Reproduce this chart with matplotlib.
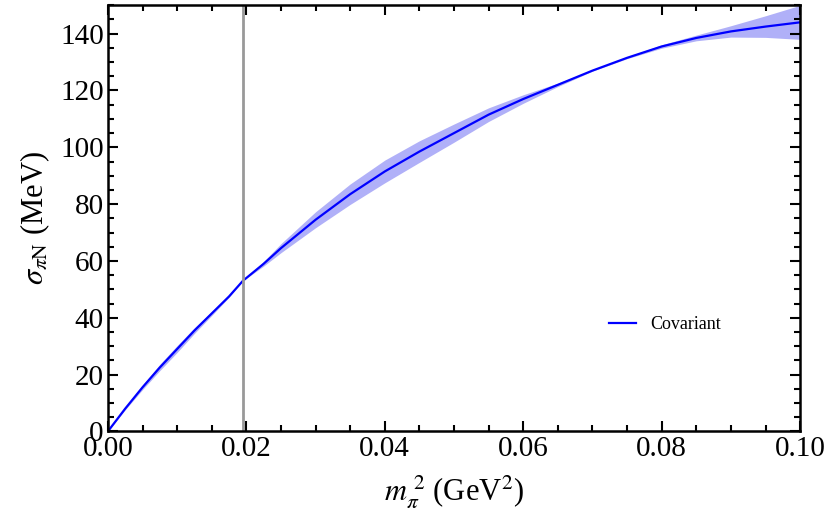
import matplotlib.pyplot as plt
from matplotlib.ticker import MultipleLocator

plt.rcParams['font.family'] = ['Liberation Serif', 'DejaVu Serif']
plt.rcParams['mathtext.fontset'] = 'stix'

mpi2 = [0.0, 0.0025, 0.005, 0.0075, 0.01, 0.0125, 0.015, 0.0175, 0.0195, 0.0225, 0.025,
        0.03, 0.035, 0.04, 0.045, 0.05, 0.055, 0.06, 0.065, 0.07, 0.075, 0.08, 0.085,
        0.09, 0.095, 0.1]
sigma = [0.0, 8.0, 15.5, 22.5, 29.0, 35.5, 41.5, 47.5, 53.0, 59.0, 64.5,
         74.5, 83.5, 91.5, 98.5, 105.0, 111.5, 117.0, 122.0, 127.0, 131.5, 135.5, 138.5,
         140.8, 142.5, 144.0]
err = [0.0, 0.4, 0.8, 1.1, 1.2, 1.0, 0.7, 0.3, 0.0, 0.8, 1.6,
       2.8, 3.6, 4.0, 3.8, 3.2, 2.4, 1.5, 0.6, 0.2, 0.3, 0.6, 1.0,
       2.0, 3.8, 6.0]
m_pi_phys2 = 0.0195

lo = [s - e for s, e in zip(sigma, err)]
hi = [s + e for s, e in zip(sigma, err)]

fig = plt.figure(figsize=(8.3, 5.28), dpi=100)
ax = fig.add_axes([0.13, 0.183, 0.834, 0.807])
ax.fill_between(mpi2, lo, hi, color='#b0b0f8', lw=0)
ax.plot(mpi2, sigma, color='blue', lw=1.6, label='Covariant')
ax.axvline(m_pi_phys2, color='#999999', lw=2)

ax.set_xlim(0, 0.1)
ax.set_ylim(0, 150)
ax.xaxis.set_major_locator(MultipleLocator(0.02))
ax.xaxis.set_minor_locator(MultipleLocator(0.005))
ax.yaxis.set_major_locator(MultipleLocator(20))
ax.yaxis.set_minor_locator(MultipleLocator(5))
ax.xaxis.set_major_formatter(plt.FormatStrFormatter('%.2f'))
ax.tick_params(which='both', direction='in', top=True, right=True, labelsize=21, width=1.5, pad=3)
ax.tick_params(which='major', length=7)
ax.tick_params(which='minor', length=4)
for sp in ax.spines.values():
    sp.set_linewidth(1.8)

ax.set_xlabel(r'$m_\pi^{\ 2}$ (GeV$^2$)', fontsize=22, labelpad=8)
ax.set_ylabel(r'$\sigma_{\pi\mathrm{N}}$ (MeV)', fontsize=22, labelpad=6)
ax.legend(loc='center left', bbox_to_anchor=(0.7, 0.25), frameon=False, fontsize=13,
          handlelength=1.5)

fig.savefig('out.png', dpi=100)
